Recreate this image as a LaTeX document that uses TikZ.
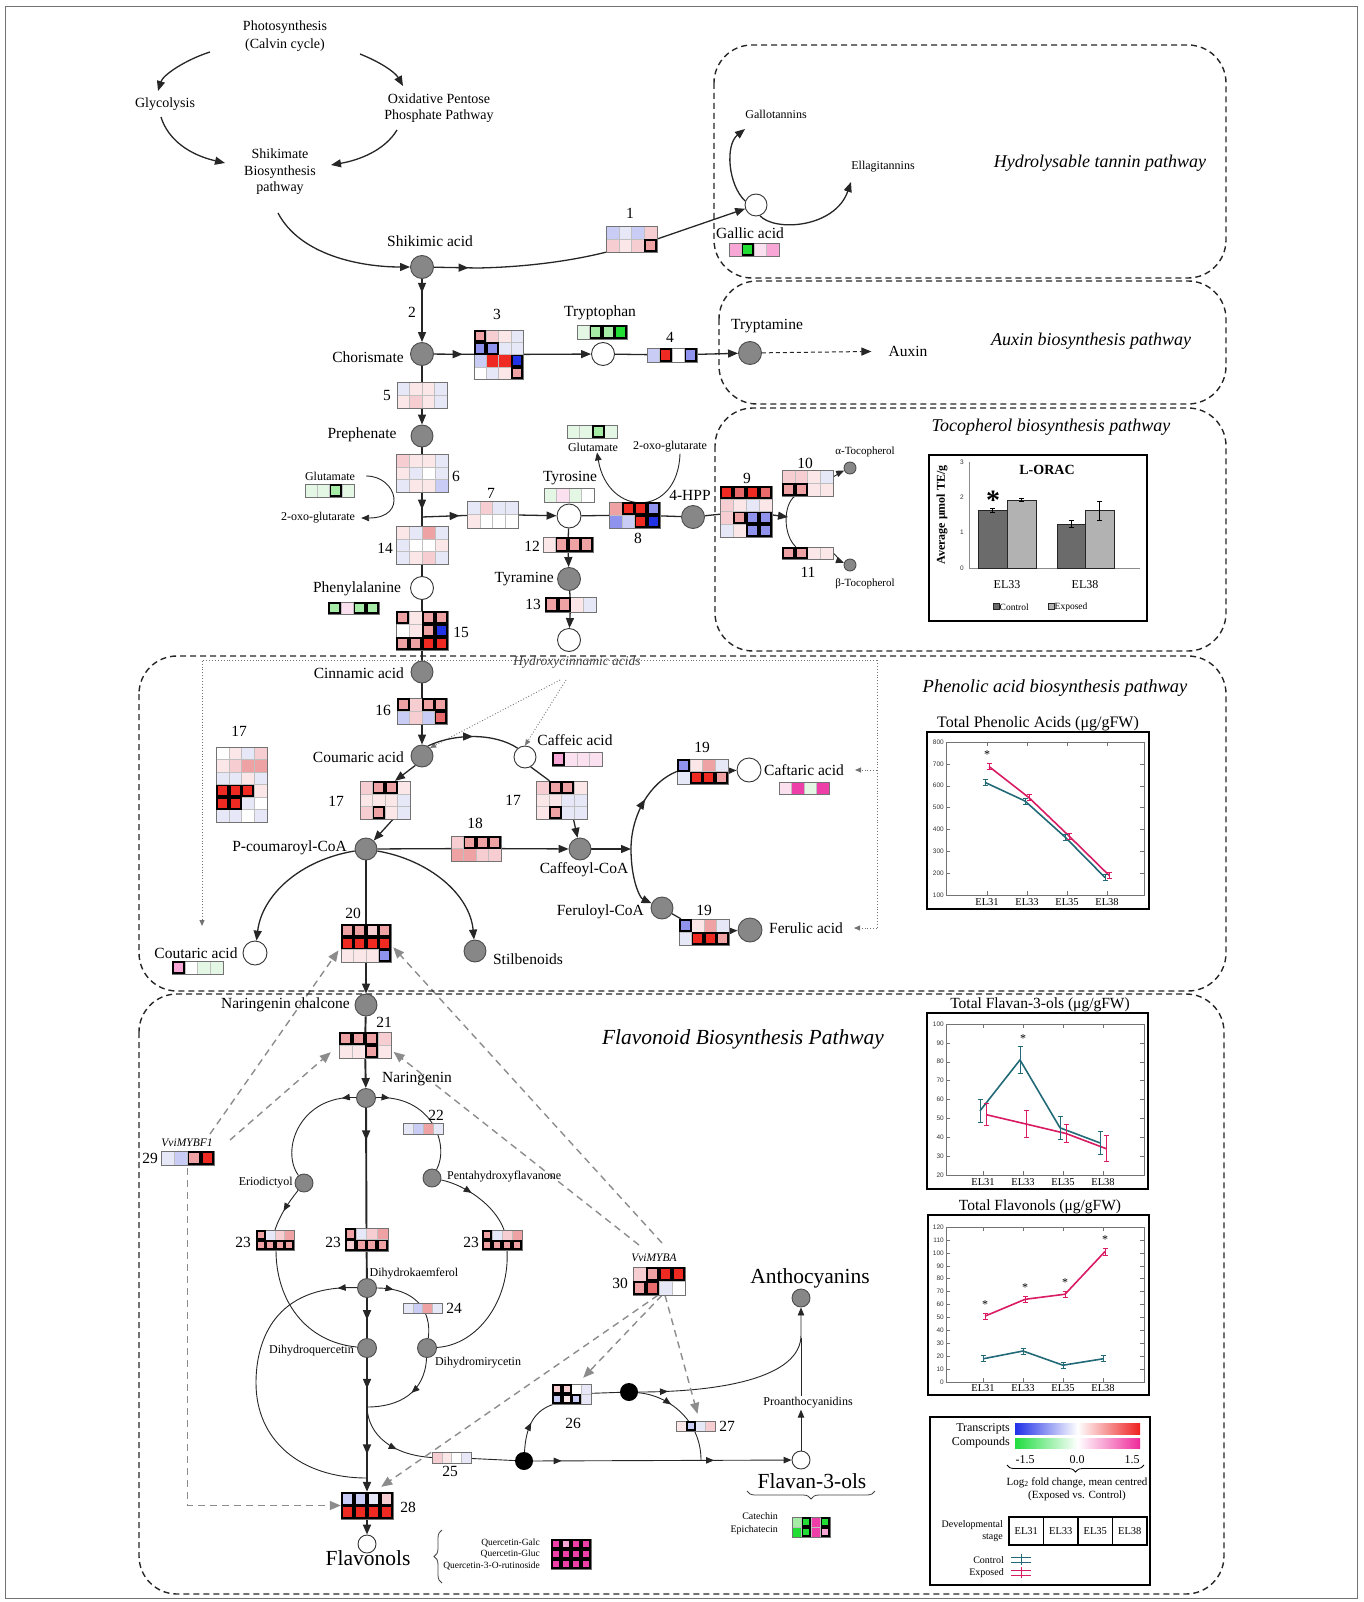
\documentclass[tikz,border=0pt]{standalone}
\usepackage{fontspec}
\setmainfont{Liberation Serif}
\newfontfamily\chsans{Liberation Sans}
\usetikzlibrary{arrows.meta,decorations.markings,decorations.pathreplacing,calc}
\pgfdeclarelayer{bg}
\pgfsetlayers{bg,main}
\definecolor{cW}{HTML}{FFFFFF}
\definecolor{cV}{HTML}{FBE6E8}
\definecolor{cL}{HTML}{F6CDD0}
\definecolor{cP}{HTML}{EFA2A4}
\definecolor{cQ}{HTML}{E86A6A}
\definecolor{cR}{HTML}{EE2A22}
\definecolor{cA}{HTML}{E6E8F8}
\definecolor{cB}{HTML}{C9CCF4}
\definecolor{cC}{HTML}{8F93EE}
\definecolor{cD}{HTML}{2233E6}
\definecolor{cE}{HTML}{E4F6E4}
\definecolor{cF}{HTML}{A6EBA6}
\definecolor{cG}{HTML}{22DD33}
\definecolor{cM}{HTML}{EE3FA8}
\definecolor{cN}{HTML}{F7A6D6}
\definecolor{cO}{HTML}{FBE0EF}
\definecolor{nodegray}{HTML}{878787}
\definecolor{ctrl}{HTML}{226A78}
\definecolor{expo}{HTML}{D81B63}
\definecolor{gradB}{HTML}{2030E8}
\definecolor{gradR}{HTML}{EE2020}
\definecolor{gradG}{HTML}{20DD40}
\definecolor{gradM}{HTML}{EE2A9A}
\newcommand\fMain{\fontsize{15.5}{17.5}\selectfont}
\newcommand\fTop{\fontsize{14}{16.5}\selectfont}
\newcommand\fSm{\fontsize{12}{14}\selectfont}
\newcommand\fXs{\fontsize{11}{13}\selectfont}
\newcommand\fTn{\fontsize{9.5}{11.5}\selectfont}
\newcommand\fBig{\fontsize{21.5}{24}\selectfont}
\newcommand\fSec{\fontsize{18}{20}\selectfont\itshape}
% heatmap: name, x0, y0, ncols, nrows, cellw, cellh, list color/bold
\newcommand\hmap[8]{%
  \node[hmfr, minimum width={#4*#6}, minimum height={#5*#7}] (#1) at ({#2+#4*#6/2},{#3+#5*#7/2}) {};
  \foreach \cc/\bb [count=\ii from 0] in {#8}{%
    \pgfmathtruncatemacro\hcol{mod(\ii,#4)}%
    \pgfmathtruncatemacro\hrow{\ii/#4}%
    \fill[fill=\cc] ({#2+\hcol*#6},{#3+\hrow*#7}) rectangle ++(#6,#7);
    \draw[black!25, line width=0.4pt] ({#2+\hcol*#6},{#3+\hrow*#7}) rectangle ++(#6,#7);
  }%
  \draw[black!55, line width=0.9pt] ({#2},{#3}) rectangle ++({#4*#6},{#5*#7});
  \foreach \cc/\bb [count=\ii from 0] in {#8}{%
    \ifnum\bb=1
      \pgfmathtruncatemacro\hcol{mod(\ii,#4)}%
      \pgfmathtruncatemacro\hrow{\ii/#4}%
      \draw[black, line width=1.9pt] ({#2+\hcol*#6+0.95},{#3+\hrow*#7+0.95}) rectangle ++({#6-1.9},{#7-1.9});
    \fi
  }%
}
\newcommand\ebar[4]{\draw[#4, line width=1pt] (#1,{#2-#3}) -- (#1,{#2+#3}) ({#1-2.5},{#2-#3}) -- ({#1+2.5},{#2-#3}) ({#1-2.5},{#2+#3}) -- ({#1+2.5},{#2+#3});}
\begin{document}
\begin{tikzpicture}[x=1pt,y=-1pt,
  lab/.style={font=\fMain, inner sep=1pt},
  tlab/.style={font=\fTop, inner sep=1pt, align=center},
  slab/.style={font=\fSm, inner sep=1pt},
  xlab/.style={font=\fXs, inner sep=1pt},
  tnl/.style={font=\fTn, inner sep=1pt},
  biglab/.style={font=\fBig, inner sep=1pt},
  sec/.style={font=\fSec, inner sep=1pt},
  num/.style={font=\fMain, inner sep=1pt},
  tick/.style={font=\chsans\fontsize{6.5}{7}\selectfont, inner sep=1pt, anchor=east, text=black!80},
  elx/.style={font=\fontsize{10.5}{12}\selectfont, inner sep=1pt},
  ctitle/.style={font=\fontsize{16}{18}\selectfont, inner sep=1pt},
  gn/.style={circle, draw=black!70, fill=nodegray, line width=0.9pt, minimum size=22pt, inner sep=0pt},
  wn/.style={circle, draw=black!80, fill=white, line width=0.9pt, minimum size=22pt, inner sep=0pt},
  bn/.style={circle, fill=black, minimum size=18pt, inner sep=0pt},
  hmfr/.style={rectangle, inner sep=0pt, draw=none},
  dbox/.style={draw=black!85, dash pattern=on 6pt off 4pt, line width=1.4pt, rounded corners=38pt},
  ln/.style={draw=black!85, line width=1.3pt, >={Triangle[length=10pt,width=8pt]}},
  ln2/.style={draw=black!85, line width=0.9pt, >={Triangle[length=8pt,width=6.5pt]}},
  lnb/.style={draw=black!85, line width=1.9pt, >={Triangle[length=10pt,width=8pt]}},
  mk/.style={postaction={decorate, decoration={markings, mark=at position #1 with {\arrow{>}}}}},
  gda/.style={draw=black!45, line width=1.4pt, dash pattern=on 7pt off 5pt, -{Triangle[length=11pt,width=9pt]}},
  dtt/.style={draw=black!55, line width=0.9pt, dotted, -{Triangle[length=6pt,width=5pt]}},
]
\useasboundingbox (0,0) rectangle (1363,1602);
\draw[black!55, line width=0.8pt] (5,6) rectangle (1357,1598);
% ---------- section boxes
\draw[dbox] (714,45) rectangle (1226,278);
\draw[dbox] (719,281) rectangle (1226,404);
\draw[dbox] (715,408) rectangle (1226,651);
\draw[dbox] (139,656) rectangle (1226,991);
\draw[dbox] (139,994) rectangle (1224,1594);
\node[sec] (tHyd) at (1100,163) {Hydrolysable tannin pathway};
\node[sec] (tAux) at (1091,341) {Auxin biosynthesis pathway};
\node[sec] (tToc) at (1051,427) {Tocopherol biosynthesis pathway};
\node[sec, font=\fontsize{18.5}{20}\selectfont\itshape] (tPhe) at (1055,688) {Phenolic acid biosynthesis pathway};
\node[sec, font=\fontsize{21.5}{23}\selectfont\itshape] (tFla) at (743,1039) {Flavonoid Biosynthesis Pathway};
% ---------- top labels
\node[tlab] (photo) at (285,36) {Photosynthesis\\[1.5pt](Calvin cycle)};
\node[tlab] (glyc) at (165,104) {Glycolysis};
\node[tlab] (oppp) at (439,108) {Oxidative Pentose\\Phosphate Pathway};
\node[tlab] (shpw) at (280,172) {Shikimate\\Biosynthesis\\pathway};
% ---------- compound nodes
\node[gn, minimum size=23pt] (shik) at (422,267) {};
\node[gn, minimum size=23pt] (chor) at (422,354) {};
\node[gn] (preph) at (422,436) {};
\node[wn, minimum size=23pt] (trp) at (603,354) {};
\node[gn, minimum size=23pt] (tryptm) at (750,353) {};
\node[wn, minimum size=24pt] (tyr) at (569,516) {};
\node[gn, minimum size=23pt] (hpp) at (693,517) {};
\node[gn, minimum size=23pt] (tyram) at (569,579) {};
\node[wn, minimum size=23pt] (tyrw) at (569,640) {};
\node[wn, minimum size=23pt] (phe) at (422,588) {};
\node[gn] (cinn) at (422,672) {};
\node[gn] (coum) at (422,756) {};
\node[wn] (caff) at (525,757) {};
\node[gn] (pcoum) at (366,849) {};
\node[gn] (caffcoa) at (580,849) {};
\node[wn, minimum size=24pt] (caft) at (749,770) {};
\node[gn] (ferul) at (662,908) {};
\node[gn, minimum size=24pt] (feru) at (750,930) {};
\node[wn, minimum size=24pt] (cout) at (255,953) {};
\node[gn] (stilb) at (475,951) {};
\node[gn] (narc) at (366,1005) {};
\node[gn, minimum size=19pt] (nar) at (366,1098) {};
\node[gn, minimum size=18pt] (eriod) at (304,1183) {};
\node[gn, minimum size=18pt] (penta) at (432,1178) {};
\node[gn, minimum size=19pt] (dhk) at (367,1288) {};
\node[gn, minimum size=19pt] (dhq) at (367,1348) {};
\node[gn, minimum size=19pt] (dhm) at (427,1348) {};
\node[bn] (blk1) at (524,1461) {};
\node[bn] (blk2) at (629,1392) {};
\node[gn, minimum size=18pt] (antho) at (801,1298) {};
\node[wn, minimum size=18pt] (flv3) at (801,1460) {};
\node[wn, minimum size=18pt] (flvo) at (367,1544) {};
\node[wn] (gallic) at (756,205) {};
\node[gn, minimum size=12pt] (alpha) at (850,468) {};
\node[gn, minimum size=12pt] (beta) at (850,565) {};
\coordinate (j1) at (422,517);
\coordinate (j2) at (788,517);
\coordinate (j3) at (631,849);
\coordinate (j4) at (367,1407);
% ---------- labels
\node[lab] (lShik) at (430,241) {Shikimic acid};
\node[lab, anchor=east] (lChor) at (405,357) {Chorismate};
\node[lab] (lTrp) at (600,313) {Tryptophan};
\node[lab] (lTrm) at (767,326) {Tryptamine};
\node[lab] (auxin) at (908,351) {Auxin};
\node[lab] (lPre) at (362,435) {Prephenate};
\node[lab] (lTyr) at (570,478) {Tyrosine};
\node[lab] (lHpp) at (690,495) {4-HPP};
\node[lab, anchor=east] (lTyram) at (555,579) {Tyramine};
\node[lab] (lPhe) at (357,589) {Phenylalanine};
\node[lab, anchor=east] (lCinn) at (405,673) {Cinnamic acid};
\node[lab, anchor=east] (lCoum) at (405,757) {Coumaric acid};
\node[lab] (lCaff) at (575,740) {Caffeic acid};
\node[lab, anchor=east] (lPcoum) at (348,848) {P-coumaroyl-CoA};
\node[lab] (lCaffcoa) at (584,870) {Caffeoyl-CoA};
\node[lab] (lCaft) at (804,770) {Caftaric acid};
\node[lab, anchor=east] (lFerul) at (645,912) {Feruloyl-CoA};
\node[lab] (lFeru) at (806,928) {Ferulic acid};
\node[lab] (lCout) at (196,953) {Coutaric acid};
\node[lab] (lStil) at (528,959) {Stilbenoids};
\node[lab, anchor=east] (lNarc) at (351,1005) {Naringenin chalcone};
\node[lab] (lNar) at (417,1079) {Naringenin};
\node[lab] (lGal) at (750,233) {Gallic acid};
\node[slab] (gallo) at (776,114) {Gallotannins};
\node[slab] (ellag) at (883,167) {Ellagitannins};
\node[slab] (glu1) at (330,476) {Glutamate};
\node[slab] (oxo1) at (318,518) {2-oxo-glutarate};
\node[slab] (glu2) at (593,447) {Glutamate};
\node[slab] (oxo2) at (670,447) {2-oxo-glutarate};
\node[xlab] (lAlpha) at (865,452) {α-Tocopherol};
\node[xlab] (lBeta) at (865,584) {β-Tocopherol};
\node[font=\fontsize{13.5}{15}\selectfont\itshape, text=black!75, inner sep=1pt] (hca) at (577,662) {Hydroxycinnamic acids};
\node[slab, anchor=east] (lEri) at (294,1183) {Eriodictyol};
\node[slab, anchor=west] (lPen) at (446,1177) {Pentahydroxyflavanone};
\node[slab] (lDhk) at (414,1274) {Dihydrokaemferol};
\node[slab, anchor=east] (lDhq) at (355,1351) {Dihydroquercetin};
\node[slab] (lDhm) at (478,1363) {Dihydromirycetin};
\node[slab] (proa) at (808,1403) {Proanthocyanidins};
\node[biglab] (lAntho) at (810,1278) {Anthocyanins};
\node[biglab] (lFlv3) at (812,1481) {Flavan-3-ols};
\node[biglab] (lFlvo) at (368,1558) {Flavonols};
\node[font=\fontsize{11.5}{13}\selectfont\itshape, inner sep=1pt] (l29) at (187,1143) {VviMYBF1};
\node[font=\fontsize{11.5}{13}\selectfont\itshape, inner sep=1pt] (l30) at (654,1258) {VviMYBA};
\node[tnl, anchor=east, align=right] (lQue) at (541,1554) {Quercetin-Galc\\Quercetin-Gluc\\Quercetin-3-O-rutinoside};
\node[font=\fontsize{10}{13}\selectfont, inner sep=1pt, anchor=east, align=right] (lCat) at (779,1524) {Catechin\\Epichatecin};
% ---------- numbers
\node[num] (n1) at (630,213) {1};
\node[num] (n2) at (412,312) {2};
\node[num] (n3) at (497,314) {3};
\node[num] (n4) at (670,337) {4};
\node[num] (n5) at (387,395) {5};
\node[num] (n6) at (456,476) {6};
\node[num] (n7) at (491,493) {7};
\node[num] (n8) at (638,538) {8};
\node[num] (n9) at (747,478) {9};
\node[num] (n10) at (805,463) {10};
\node[num] (n11) at (808,572) {11};
\node[num] (n12) at (532,546) {12};
\node[num] (n13) at (533,604) {13};
\node[num] (n14) at (385,548) {14};
\node[num] (n15) at (461,632) {15};
\node[num] (n16) at (383,710) {16};
\node[num] (n17a) at (336,801) {17};
\node[num] (n17b) at (513,800) {17};
\node[num] (n17c) at (239,731) {17};
\node[num] (n18) at (475,823) {18};
\node[num] (n19a) at (702,747) {19};
\node[num] (n19b) at (704,910) {19};
\node[num] (n20) at (353,913) {20};
\node[num] (n21) at (384,1022) {21};
\node[num] (n22) at (436,1115) {22};
\node[num] (n23a) at (243,1242) {23};
\node[num] (n23b) at (333,1242) {23};
\node[num] (n23c) at (471,1242) {23};
\node[num] (n24) at (454,1308) {24};
\node[num] (n25) at (450,1471) {25};
\node[num] (n26) at (573,1423) {26};
\node[num] (n27) at (727,1426) {27};
\node[num] (n28) at (408,1507) {28};
\node[num] (n29) at (150,1158) {29};
\node[num] (n30) at (620,1283) {30};
% ---------- heatmaps
\hmap{h1}{606}{226}{4}{2}{12.75}{13}{cB/0,cA/0,cB/0,cL/0,cL/0,cV/0,cL/0,cP/1}
\hmap{h3}{474}{330}{4}{4}{12.25}{12.25}{cP/1,cL/0,cV/0,cA/0,cC/1,cC/1,cA/0,cA/0,cB/0,cR/0,cR/0,cD/1,cW/0,cA/0,cV/0,cP/1}
\hmap{h4}{647}{348}{4}{1}{12.5}{14}{cB/0,cR/1,cW/0,cC/1}
\hmap{cTrp}{577}{325}{4}{1}{12.5}{14}{cE/0,cF/1,cF/1,cG/1}
\hmap{h5}{397}{382}{4}{2}{12.5}{13}{cA/0,cV/0,cV/0,cA/0,cV/0,cL/0,cV/0,cA/0}
\hmap{h6}{396}{454}{4}{3}{13}{12.7}{cL/0,cV/0,cV/0,cA/0,cV/0,cA/0,cW/0,cA/0,cA/0,cV/0,cV/0,cB/0}
\hmap{cGlu1}{305}{484}{4}{1}{12.25}{13}{cE/0,cE/0,cF/1,cE/0}
\hmap{h7}{467}{501}{4}{2}{12.75}{13.5}{cA/0,cL/0,cA/0,cA/0,cV/0,cW/0,cW/0,cW/0}
\hmap{cTyr}{544}{488}{4}{1}{12.5}{14}{cE/0,cO/0,cE/0,cW/0}
\hmap{h8}{609}{502}{4}{2}{12.75}{13}{cP/0,cR/1,cR/1,cC/1,cC/0,cB/0,cR/1,cD/1}
\hmap{cGlu2}{567}{425}{4}{1}{12.5}{13}{cE/0,cE/0,cF/1,cE/0}
\hmap{h9}{720}{486}{4}{4}{13}{12.75}{cR/1,cQ/1,cR/1,cQ/1,cL/0,cV/0,cA/0,cV/0,cL/0,cP/1,cC/1,cC/1,cA/0,cV/0,cC/1,cC/1}
\hmap{h10}{782}{470}{4}{2}{12.75}{13}{cL/0,cL/0,cV/0,cA/0,cP/1,cP/1,cV/0,cV/0}
\hmap{h11}{782}{547}{4}{1}{12.75}{12}{cP/1,cP/1,cV/0,cV/0}
\hmap{h12}{543}{537}{4}{1}{12.5}{15}{cV/0,cP/1,cP/1,cP/1}
\hmap{h13}{545}{597}{4}{1}{12.75}{15}{cP/1,cP/1,cV/0,cA/0}
\hmap{h14}{396}{526}{4}{3}{13}{12.7}{cV/0,cA/0,cP/0,cA/0,cA/0,cW/0,cW/0,cV/0,cA/0,cV/0,cL/0,cA/0}
\hmap{cPhe}{328}{602}{4}{1}{12.75}{12}{cF/1,cO/0,cF/1,cF/1}
\hmap{h15}{396}{611}{4}{3}{13}{13}{cP/1,cV/0,cP/1,cP/1,cW/0,cV/0,cP/1,cD/1,cP/1,cP/1,cR/1,cR/1}
\hmap{h16}{397}{698}{4}{2}{12.5}{13}{cP/1,cL/0,cP/1,cP/1,cB/0,cL/0,cB/0,cQ/1}
\hmap{cCaf}{552}{752}{4}{1}{12.5}{14}{cN/1,cO/0,cO/0,cO/0}
\hmap{h17l}{360}{781}{4}{3}{12.5}{12.7}{cL/0,cP/1,cP/1,cV/0,cV/0,cV/0,cV/0,cA/0,cL/0,cP/1,cV/0,cA/0}
\hmap{h17r}{536}{781}{4}{3}{12.75}{12.7}{cL/0,cP/1,cP/1,cV/0,cV/0,cV/0,cA/0,cA/0,cV/0,cP/1,cA/0,cA/0}
\hmap{h17b}{216}{747}{4}{6}{12.75}{12.5}{cW/0,cV/0,cA/0,cL/0,cV/0,cL/0,cP/0,cP/0,cA/0,cA/0,cV/0,cA/0,cR/1,cR/1,cR/1,cV/0,cR/1,cR/1,cA/0,cW/0,cA/0,cA/0,cW/0,cA/0}
\hmap{h18}{451}{836}{4}{2}{12.5}{12.5}{cL/0,cP/1,cP/1,cP/1,cP/0,cP/0,cL/0,cL/0}
\hmap{h19t}{677}{759}{4}{2}{12.75}{12.5}{cC/1,cV/0,cP/0,cA/0,cA/0,cR/1,cR/1,cP/1}
\hmap{cCaft}{779}{782}{4}{1}{12.5}{12}{cO/0,cM/0,cE/0,cM/0}
\hmap{h19b}{679}{919}{4}{2}{12.5}{13}{cC/1,cV/0,cP/0,cA/0,cA/0,cR/1,cR/1,cP/1}
\hmap{h20}{341}{924}{4}{3}{12.5}{12.7}{cP/1,cP/1,cL/1,cP/1,cR/1,cR/1,cR/1,cR/1,cV/0,cV/0,cV/0,cC/1}
\hmap{cCout}{172}{961}{4}{1}{12.75}{13}{cN/1,cW/0,cE/0,cE/0}
\hmap{h21}{339}{1032}{4}{2}{13}{13}{cP/1,cP/1,cP/1,cL/0,cV/0,cV/0,cP/1,cV/0}
\hmap{h22}{403}{1123}{4}{1}{10}{11}{cA/0,cB/0,cP/0,cA/0}
\hmap{h23l}{256}{1230}{4}{2}{9.5}{10}{cP/1,cA/0,cL/0,cP/0,cP/1,cP/1,cP/1,cP/1}
\hmap{h23c}{345}{1228}{4}{2}{10.75}{11.5}{cP/1,cA/0,cL/0,cP/0,cL/1,cP/1,cP/1,cP/1}
\hmap{h23r}{482}{1230}{4}{2}{10}{10}{cP/1,cA/0,cL/0,cP/0,cP/1,cP/1,cP/1,cP/1}
\hmap{h24}{403}{1303}{4}{1}{9.75}{10}{cA/0,cB/0,cP/0,cA/0}
\hmap{h25}{432}{1452}{4}{1}{9.75}{11}{cL/0,cV/0,cW/0,cA/0}
\hmap{h26}{552}{1384}{4}{2}{9.75}{10}{cL/1,cL/1,cW/0,cA/0,cB/1,cV/1,cB/1,cA/0}
\hmap{h27}{676}{1421}{4}{1}{9.75}{10}{cV/0,cB/1,cA/0,cL/0}
\hmap{h28}{341}{1492}{4}{2}{13}{13.5}{cB/1,cB/1,cA/1,cL/1,cR/1,cR/1,cR/1,cR/1}
\hmap{h29}{161}{1151}{4}{1}{13.25}{14}{cA/0,cB/0,cP/1,cR/1}
\hmap{h30}{633}{1267}{4}{2}{13}{14}{cL/0,cP/1,cR/1,cR/1,cP/1,cQ/1,cA/0,cW/0}
\hmap{cFlvo}{551}{1539}{4}{3}{10}{10}{cM/1,cN/1,cM/1,cM/1,cM/1,cM/1,cM/1,cM/1,cM/1,cM/1,cM/1,cM/1}
\hmap{cCat}{792}{1517}{4}{2}{9.5}{10}{cF/0,cG/1,cM/0,cG/1,cG/0,cG/1,cM/0,cN/1}
\hmap{cGal}{729}{243}{4}{1}{12.5}{13}{cN/0,cG/1,cO/0,cN/0}
% ---------- braces
\draw[decorate, decoration={brace, amplitude=8pt}, line width=0.8pt, black!75] (442,1583) -- (442,1530);
\draw[decorate, decoration={brace, amplitude=8pt}, line width=0.8pt, black!75] (875,1491) -- (747,1491);
% ---------- L-ORAC chart
\draw[line width=1.5pt] (929,455) rectangle (1147,621);
\node[font=\bfseries\fontsize{14}{16}\selectfont, inner sep=1pt] (orT) at (1047,470) {L-ORAC};
\draw[black!45, line width=0.6pt] (969,462) -- (969,568) -- (1140,568);
\foreach \v in {0,1,2,3}{\node[tick] (ort\v) at (965,{568-\v*35.3}) {\v};}
\draw[fill=black!58, draw=black!85, line width=0.8pt] (978,510.8) rectangle (1007,568);
\draw[fill=black!30, draw=black!85, line width=0.8pt] (1007,499.9) rectangle (1036,568);
\draw[fill=black!58, draw=black!85, line width=0.8pt] (1057,523.9) rectangle (1085,568);
\draw[fill=black!30, draw=black!85, line width=0.8pt] (1085,510.5) rectangle (1114,568);
\ebar{992.5}{510.8}{2}{black}
\ebar{1021.5}{499.9}{1.2}{black}
\ebar{1071}{523.9}{3.8}{black}
\ebar{1099.5}{510.5}{9.5}{black}
\node[font=\bfseries\fontsize{28}{28}\selectfont, inner sep=0pt] (orS) at (993,500) {*};
\node[elx, font=\fontsize{12}{13}\selectfont] (orE1) at (1007,585) {EL33};
\node[elx, font=\fontsize{12}{13}\selectfont] (orE2) at (1085,585) {EL38};
\draw[fill=black!58, draw=black!85, line width=0.6pt] (993,603) rectangle (999,609);
\node[font=\fontsize{9.5}{11}\selectfont, anchor=west, inner sep=0.5pt] (orC) at (999,607) {Control};
\draw[fill=black!30, draw=black!85, line width=0.6pt] (1048,603) rectangle (1054,609);
\node[font=\fontsize{9.5}{11}\selectfont, anchor=west, inner sep=0.5pt] (orX) at (1054,607) {Exposed};
\node[font=\bfseries\fontsize{12}{13}\selectfont, rotate=90, inner sep=1pt] (orY) at (942,515) {Average μmol TE/g};
% ---------- Phenolic acids chart
\node[ctitle] (tpa) at (1038,724) {Total Phenolic Acids (μg/gFW)};
\draw[line width=1.6pt] (927,732) rectangle (1149,909);
\draw[black!55, line width=0.5pt] (946,742) rectangle (1144,895);
\foreach \v in {100,200,...,800}{\pgfmathsetmacro\yy{895-(\v-100)*0.21857}
  \draw[black!55] (946,\yy) -- (950,\yy) (1144,\yy) -- (1140,\yy);
  \node[tick] (pat\v) at (945,\yy) {\v};}
\foreach \x/\l in {987/EL31,1027/EL33,1067/EL35,1107/EL38}{\node[elx] (pax\l) at (\x,902) {\l};
  \draw[black!55] (\x,895) -- (\x,891) (\x,742) -- (\x,746);}
\draw[ctrl, line width=1.6pt] (985,782.4) -- (1025,801) -- (1065,837) -- (1105,877.5);
\draw[expo, line width=1.6pt] (989,766.5) -- (1029,797.7) -- (1069,836) -- (1109,875.3);
\ebar{985}{782.4}{3}{ctrl}\ebar{1025}{801}{3}{ctrl}\ebar{1065}{837}{3}{ctrl}\ebar{1105}{877.5}{3}{ctrl}
\ebar{989}{766.5}{3}{expo}\ebar{1029}{797.7}{3}{expo}\ebar{1069}{836}{3}{expo}\ebar{1109}{875.3}{3}{expo}
\node[font=\fontsize{12}{12}\selectfont, inner sep=0pt] (paS) at (987,755) {*};
% ---------- Flavan-3-ols chart
\node[ctitle, font=\fontsize{15.5}{17}\selectfont] (tfa) at (1040,1005) {Total Flavan-3-ols (μg/gFW)};
\draw[line width=1.6pt] (927,1013) rectangle (1148,1189);
\draw[black!55, line width=0.5pt] (946,1024) rectangle (1144,1175);
\foreach \v in {20,30,...,100}{\pgfmathsetmacro\yy{1175-(\v-20)*1.8875}
  \draw[black!55] (946,\yy) -- (950,\yy) (1144,\yy) -- (1140,\yy);
  \node[tick] (fat\v) at (945,\yy) {\v};}
\foreach \x/\l in {983/EL31,1023/EL33,1063/EL35,1103/EL38}{\node[elx] (fax\l) at (\x,1182) {\l};
  \draw[black!55] (\x,1175) -- (\x,1171) (\x,1024) -- (\x,1028);}
\draw[ctrl, line width=1.6pt] (980,1110.8) -- (1020,1059.9) -- (1060,1127.8) -- (1100,1142.9);
\draw[expo, line width=1.6pt] (986,1114.6) -- (1026,1124) -- (1066,1133.5) -- (1106,1148.6);
\ebar{980}{1110.8}{11.3}{ctrl}\ebar{1020}{1059.9}{13.2}{ctrl}\ebar{1060}{1127.8}{11.3}{ctrl}\ebar{1100}{1142.9}{11.3}{ctrl}
\ebar{986}{1114.6}{11.3}{expo}\ebar{1026}{1124}{13.2}{expo}\ebar{1066}{1133.5}{9.4}{expo}\ebar{1106}{1148.6}{13.2}{expo}
\node[font=\fontsize{12}{12}\selectfont, inner sep=0pt] (faS) at (1023,1039) {*};
% ---------- Flavonols chart
\node[ctitle, font=\fontsize{15.5}{17}\selectfont] (tfo) at (1040,1207) {Total Flavonols (μg/gFW)};
\draw[line width=1.6pt] (928,1215) rectangle (1149,1395);
\draw[black!55, line width=0.5pt] (946,1227) rectangle (1144,1382);
\foreach \v in {0,10,...,120}{\pgfmathsetmacro\yy{1382-\v*1.29167}
  \draw[black!55] (946,\yy) -- (950,\yy) (1144,\yy) -- (1140,\yy);
  \node[tick] (fot\v) at (945,\yy) {\v};}
\foreach \x/\l in {983/EL31,1023/EL33,1063/EL35,1103/EL38}{\node[elx] (fox\l) at (\x,1388.5) {\l};
  \draw[black!55] (\x,1382) -- (\x,1378) (\x,1227) -- (\x,1231);}
\draw[expo, line width=1.6pt] (985,1316.1) -- (1025,1299.3) -- (1065,1294.2) -- (1105,1251.5);
\draw[ctrl, line width=1.6pt] (983,1358.8) -- (1023,1351) -- (1063,1365.2) -- (1103,1358.8);
\ebar{985}{1316.1}{3}{expo}\ebar{1025}{1299.3}{3}{expo}\ebar{1065}{1294.2}{3}{expo}\ebar{1105}{1251.5}{3.5}{expo}
\ebar{983}{1358.8}{3}{ctrl}\ebar{1023}{1351}{3}{ctrl}\ebar{1063}{1365.2}{3}{ctrl}\ebar{1103}{1358.8}{3}{ctrl}
\node[font=\fontsize{12}{12}\selectfont, inner sep=0pt] (foS1) at (985,1305) {*};
\node[font=\fontsize{12}{12}\selectfont, inner sep=0pt] (foS2) at (1025,1288) {*};
\node[font=\fontsize{12}{12}\selectfont, inner sep=0pt] (foS3) at (1065,1283) {*};
\node[font=\fontsize{12}{12}\selectfont, inner sep=0pt] (foS4) at (1105,1240) {*};
% ---------- Legend
\draw[line width=1.6pt] (930,1417) rectangle (1150,1585);
\node[slab, anchor=east] (lgT) at (1011,1429) {Transcripts};
\shade[left color=gradB, right color=gradR, middle color=white] (1015,1423) rectangle (1140,1434);
\node[slab, anchor=east] (lgC) at (1011,1443) {Compounds};
\shade[left color=gradG, right color=gradM, middle color=white] (1015,1438) rectangle (1140,1448);
\node[slab] (lgm) at (1025,1460) {-1.5};
\node[slab] (lg0) at (1077,1460) {0.0};
\node[slab] (lgp) at (1132,1460) {1.5};
\draw[decorate, decoration={brace, amplitude=7pt}, line width=0.8pt] (1144,1465) -- (1007,1465);
\node[xlab, align=center, font=\fontsize{11}{13}\selectfont] (lgL) at (1077,1489) {Log\textsubscript{2} fold change, mean centred\\(Exposed vs. Control)};
\node[font=\fontsize{10}{12}\selectfont, anchor=east, align=right, inner sep=1pt] (lgD) at (1004,1531) {Developmental\\stage};
\foreach \l [count=\i from 0] in {EL31,EL33,EL35,EL38}{
  \draw[line width=1.6pt] ({1009+\i*34.5},1517) rectangle ++(34.5,28);
  \node[font=\fontsize{10.5}{12}\selectfont, inner sep=0pt] (lgS\l) at ({1009+\i*34.5+17.25},1531) {\l};}
\node[font=\fontsize{10}{12}\selectfont, anchor=east, inner sep=1pt] (lgCo) at (1005,1560) {Control};
\node[font=\fontsize{10}{12}\selectfont, anchor=east, inner sep=1pt] (lgEx) at (1005,1573) {Exposed};
\draw[ctrl, line width=0.9pt] (1011,1557.5) -- (1031,1557.5) (1011,1562) -- (1031,1562) (1021,1554) -- (1021,1565);
\draw[expo, line width=0.9pt] (1011,1570.5) -- (1031,1570.5) (1011,1575) -- (1031,1575) (1021,1567) -- (1021,1578);
% =========== connectors
\begin{pgfonlayer}{bg}
% top
\draw[ln,->] (210,52) .. controls (185,60) and (163,75) .. (158,91);
\draw[ln,->] (360,54) .. controls (380,62) and (395,72) .. (403,86);
\draw[ln,->] (161,117) .. controls (168,140) and (190,155) .. (225,163);
\draw[ln,->] (397,130) .. controls (385,150) and (360,160) .. (331,165);
\draw[ln,->] (278,213) .. controls (300,255) and (360,267) .. (shik);
\draw[ln, mk=0.2] (shik) -- (478,268) .. controls (530,267) and (575,260) .. (h1.south west);
\draw[ln,->] (h1.east) -- (gallic);
\draw[ln,->] (gallic.160) .. controls (728,185) and (725,145) .. (745,129);
\draw[ln,->] (gallic.290) .. controls (775,232) and (835,228) .. (851,182);
% shikimate column
\draw[ln, mk=0.22, ->] (shik) -- (chor);
\draw[ln, mk=0.72] (chor) -- (h3);
\draw[ln,->] (h3) -- (trp);
\draw[ln] (trp) -- (h4);
\draw[ln,->] (h4) -- (tryptm);
\draw[ln, line width=1pt, dashed, dash pattern=on 4pt off 3pt, ->, shorten >=16pt] (tryptm) -- (auxin);
\draw[ln] (chor) -- (h5);
\draw[ln,->] (h5) -- (preph);
\draw[ln] (preph) -- (h6);
\draw[ln, mk=0.7] (h6) -- (j1);
\draw[ln] (j1) -- (h14);
\draw[ln] (h14) -- (phe);
\draw[ln] (phe) -- (h15);
\draw[ln] (h15) -- (cinn);
\draw[ln, mk=0.84] (j1) -- (h7);
\draw[ln,->] (h7) -- (tyr);
\draw[ln] (tyr) -- (h8);
\draw[ln] (h8) -- (hpp);
\draw[ln] (hpp) -- (h9);
\draw[ln,->] (h9) -- (j2);
\draw[ln2] ([xshift=13pt]h10.south west) .. controls (783,505) and (783,535) .. ([xshift=14pt]h11.north west);
\draw[ln2,->] ([yshift=6pt]h10.east) .. controls (841,472) .. (alpha);
\draw[ln2,->] (h11.east) .. controls (842,562) .. (beta);
\draw[ln] (tyr) -- (h12);
\draw[ln,->] (h12) -- (tyram);
\draw[ln] (tyram) -- (h13);
\draw[ln,->] (h13) -- (tyrw);
\draw[ln2,->] ([xshift=10pt]oxo2.south) .. controls (678,518) and (608,518) .. ([xshift=4pt]glu2.south);
\draw[ln2,->] ([xshift=10pt]glu1.east) .. controls (397,476) and (408,518) .. ([xshift=5pt]oxo1.east);
% phenolic
\draw[ln] (cinn) -- (h16);
\draw[ln,->] (h16) -- (coum);
\draw[dtt] (560,680) -- (coum.north east);
\draw[dtt] (566,680) -- (caff.north);
\draw[ln, mk=0.5] (coum.60) .. controls (455,733) and (495,733) .. (caff.130);
\draw[ln,->] (coum.235) -- ([xshift=10pt]h17l.north);
\draw[ln,->] ([xshift=8pt]h17l.south) -- (pcoum);
\draw[ln] (caff.300) -- ([xshift=-12pt]h17r.north);
\draw[ln,->] ([xshift=12pt]h17r.south) -- (caffcoa);
\draw[ln] (pcoum) -- (h18);
\draw[ln,->] (h18) -- (caffcoa);
\draw[ln,->] (caffcoa) -- (j3);
\draw[ln, mk=0.55] (j3) .. controls (631,815) and (650,782) .. (h19t.west);
\draw[ln,->] (j3) .. controls (631,880) and (640,898) .. (ferul);
\draw[ln,->] (h19t) -- (caft);
\draw[ln] (ferul) -- (h19b);
\draw[ln,->] (h19b) -- (feru);
\draw[ln,->] (pcoum.190) .. controls (300,860) and (262,895) .. (cout);
\draw[ln,->] (pcoum.350) .. controls (430,860) and (470,895) .. (stilb);
\draw[ln] (pcoum) -- (h20);
\draw[ln,->] (h20) -- (narc);
\draw[dtt] (877,660) -- (202,660) -- (202,926);
\draw[dtt, -] (877,660) -- (877,928);
\draw[dtt] (877,770) -- ([xshift=10pt]lCaft.east);
\draw[dtt] (877,928) -- ([xshift=10pt]lFeru.east);
% flavonoid
\draw[lnb] (narc) -- (h21);
\draw[lnb,->] (h21) -- (nar);
\draw[ln2, mk=0.12] (nar) .. controls (300,1095) and (280,1150) .. (eriod);
\draw[ln2, mk=0.12] (nar) .. controls (432,1095) and (450,1145) .. (penta);
\draw[lnb, mk=0.27] (nar) -- (h23c);
\draw[ln2, mk=0.55] (eriod) .. controls (288,1203) and (280,1215) .. (h23l.north);
\draw[ln2, mk=0.4] (penta) .. controls (465,1185) and (495,1205) .. ([xshift=2pt]h23r.north);
\draw[ln2] ([xshift=1pt]h23l.south) .. controls (276,1300) and (305,1342) .. (dhq);
\draw[ln2] ([xshift=5pt]h23r.south) .. controls (510,1300) and (478,1345) .. (dhm);
\draw[lnb] (h23c) -- (dhk);
\draw[ln2, mk=0.06] (dhk) .. controls (275,1285) and (256,1340) .. (256,1383) .. controls (256,1440) and (300,1478) .. (367,1478);
\draw[ln2, mk=0.2] (dhk) .. controls (415,1288) and (432,1310) .. (dhm);
\draw[lnb, mk=0.55] (dhk) -- (dhq);
\draw[lnb, mk=0.23, mk=0.72, ->] (dhq) -- (h28);
\draw[ln2, mk=0.45] (dhm) .. controls (425,1392) and (400,1407) .. (j4);
\draw[ln2, mk=0.6] (j4) .. controls (368,1435) and (392,1455) .. (h25.west);
\draw[ln2] (h25) -- (blk1);
\draw[ln2, mk=0.11, mk=0.7, ->] (blk1) -- (flv3);
\draw[ln2, mk=0.5] (blk1) .. controls (526,1425) and (535,1410) .. ([xshift=2pt]h26.south west);
\draw[ln2] (h26) -- (blk2);
\draw[ln2, mk=0.14, ->] (blk2) .. controls (720,1392) and (801,1378) .. (801,1335) -- (antho);
\draw[ln2] ([xshift=-7pt]proa.north) -- (801,1338);
\draw[ln2, ->] (flv3) -- ([xshift=-7pt]proa.south);
\draw[ln2, mk=0.35] (blk2) .. controls (668,1395) and (701,1420) .. (701,1460);
\draw[lnb, ->] (h28) -- (flvo);
% regulators
\draw[gda, shorten >=4pt] (210,1134) -- ([yshift=-4pt]h20.west);
\draw[gda] (230,1140) -- ([xshift=-8pt,yshift=6pt]h21.south west);
\draw[gda] ([yshift=-3pt]h29.south) |- (h28.west);
\draw[gda, shorten >=3pt] (662,1243) -- ([yshift=-2pt]h20.east);
\draw[gda, shorten >=3pt] (639,1245) -- ([yshift=-5pt]h21.east);
\draw[gda] ([xshift=3pt]h30.south) -- ([xshift=-8pt,yshift=6pt]h26.north east);
\draw[gda] ([xshift=-1pt]h30.south) -- ([xshift=-12pt,yshift=5pt]h28.north east);
\draw[gda] ([xshift=6pt]h30.south) -- ([xshift=2pt,yshift=7pt]h27.north);
\end{pgfonlayer}
\end{tikzpicture}
\end{document}
